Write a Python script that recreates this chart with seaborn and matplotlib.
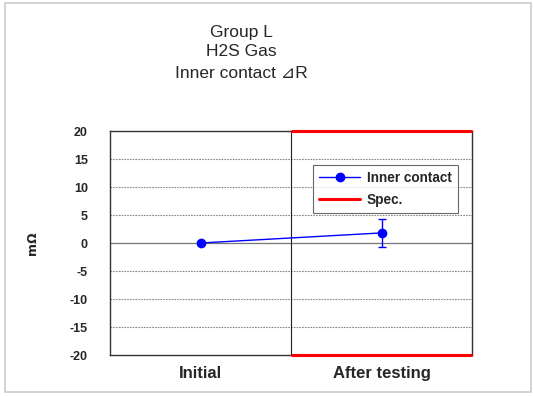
import matplotlib
matplotlib.use("Agg")
import matplotlib.pyplot as plt
import seaborn as sns
import pandas as pd
from matplotlib.lines import Line2D
from matplotlib.patches import Rectangle

# ---- data ----
categories = ["Initial", "After testing"]
inner_mean = [0.0, 1.8]
inner_err = [0.0, 2.5]
spec_upper = 20
spec_lower = -20
y_ticks = [20, 15, 10, 5, 0, -5, -10, -15, -20]
title_lines = ["Group L", "H2S Gas", "Inner contact ⊿R"]

sns.set_theme(style="white")
FAM = ["Liberation Sans", "DejaVu Sans"]
plt.rcParams["font.family"] = FAM

fig = plt.figure(figsize=(5.33, 3.96), dpi=100)
ax = fig.add_axes([110/533, 1-355/396, (472-110)/533, (355-131)/396])

df = pd.DataFrame({"x": categories, "y": inner_mean})
sns.lineplot(data=df, x="x", y="y", ax=ax, color="#0000ff", lw=1.0,
             marker="o", markersize=7, markeredgewidth=0, sort=False)
ax.errorbar([1], [inner_mean[1]], yerr=[inner_err[1]], fmt="none",
            ecolor="#0000ff", elinewidth=1.0, capsize=3, capthick=1.0)

# spec lines over the "After testing" region
ax.hlines([spec_upper, spec_lower], 0.5, 1.5, colors="#ff0000", lw=2.2,
          zorder=5, clip_on=False)

# gridlines
for v in y_ticks:
    if v in (20, -20):
        continue
    if v == 0:
        ax.axhline(v, color="#777777", lw=0.9, zorder=0)
    else:
        ax.axhline(v, color="#888888", lw=0.8, ls=(0, (1.5, 1)), zorder=0)
ax.axvline(0.5, color="#222222", lw=0.8, zorder=1)

ax.set_xlim(-0.5, 1.5)
ax.set_ylim(-20, 20)
ax.set_yticks(y_ticks)
ax.set_yticklabels([str(v) for v in y_ticks], fontweight="bold", fontsize=9,
                   family=FAM)
ax.set_xticks([0, 1])
ax.set_xticklabels(categories, fontsize=12, fontweight="bold", family=FAM)
ax.tick_params(axis="x", length=0, pad=8)
ax.tick_params(axis="y", length=0, pad=16)
ax.set_xlabel("")
ax.set_ylabel("mΩ", fontsize=9, fontweight="bold", family=["DejaVu Sans"],
              labelpad=22)
for s in ax.spines.values():
    s.set_color("#333333")
    s.set_linewidth(1.0)

handles = [Line2D([0], [0], color="#0000ff", lw=1.0, marker="o", markersize=6),
           Line2D([0], [0], color="#ff0000", lw=2.2)]
leg = ax.legend(handles, ["Inner contact", "Spec."], loc="upper left",
                bbox_to_anchor=((313-110)/362, (355-165)/224),
                prop={"family": FAM, "weight": "bold", "size": 9.8},
                frameon=True, fancybox=False, edgecolor="#444444",
                handlelength=3.0, handletextpad=0.5, borderpad=0.45,
                labelspacing=0.55, borderaxespad=0)
leg.get_frame().set_linewidth(0.8)

for i, t in enumerate(title_lines):
    fig.text(241/533, 1-[32, 52, 74][i]/396, t, ha="center", va="center",
             fontsize=12.5, family=FAM)

fig.patches.append(Rectangle((5/533, 4/396), 526/533, 389/396,
                             transform=fig.transFigure, fill=False,
                             edgecolor="#cccccc", lw=1.2))

fig.savefig("out.png", dpi=100)
